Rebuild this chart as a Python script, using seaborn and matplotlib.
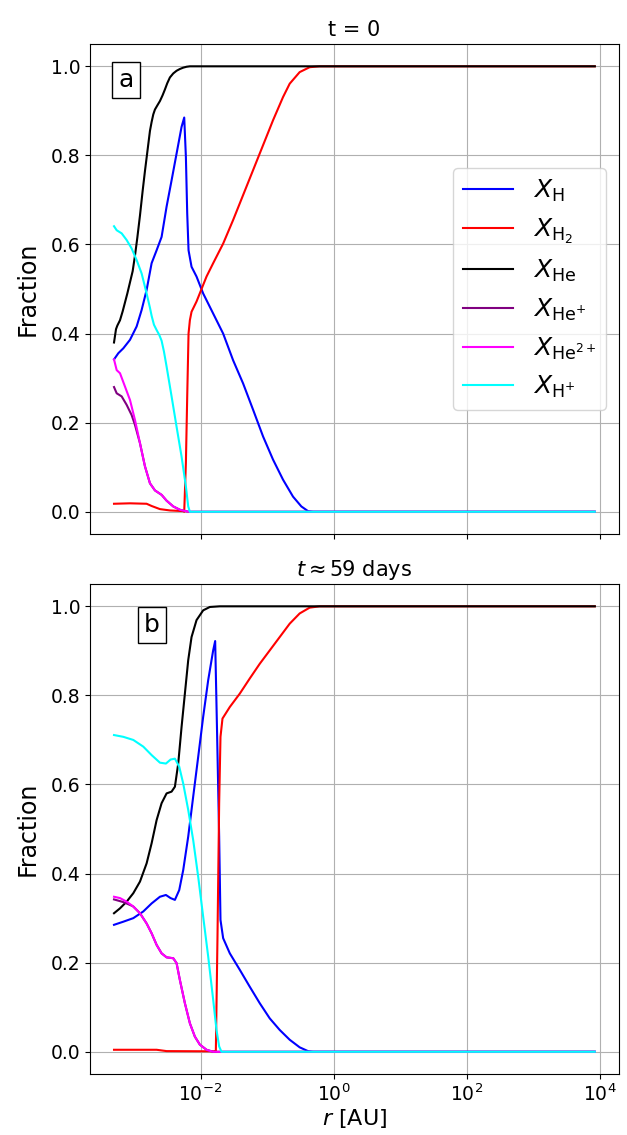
import numpy as np
import pandas as pd
import matplotlib
matplotlib.use("Agg")
import matplotlib.pyplot as plt
import matplotlib.ticker as mticker
import seaborn as sns

R_END = 3.925  # log10 of outermost radius

# ---------------- panel a (t = 0) : log10(r) and fractions ----------------
a_H_logr = [-3.30, -3.235, -3.16, -3.06, -2.96, -2.885, -2.81, -2.735, -2.66, -2.585, -2.51,
            -2.435, -2.36, -2.285, -2.245, -2.22, -2.20, -2.18, -2.135, -2.06, -1.96, -1.81,
            -1.66, -1.51, -1.36, -1.21, -1.06, -0.91, -0.76, -0.61, -0.485, -0.385, -0.31, R_END]
a_H = [0.342, 0.356, 0.367, 0.386, 0.416, 0.453, 0.498, 0.558, 0.587, 0.617, 0.685,
       0.744, 0.804, 0.864, 0.885, 0.797, 0.67, 0.587, 0.55, 0.528, 0.49, 0.445,
       0.40, 0.34, 0.288, 0.229, 0.169, 0.117, 0.072, 0.034, 0.012, 0.0015, 0.0, 0.0]

a_H2_logr = [-3.30, -3.06, -2.81, -2.735, -2.61, -2.46, -2.26, -2.245, -2.22, -2.20, -2.18, -2.16,
             -2.135, -2.06, -1.985, -1.91, -1.81, -1.66, -1.51, -1.36, -1.21, -1.06, -0.91,
             -0.76, -0.66, -0.51, -0.36, -0.21, R_END]
a_H2 = [0.018, 0.019, 0.018, 0.013, 0.006, 0.003, 0.0015, 0.0, 0.109, 0.259, 0.40, 0.43,
        0.449, 0.472, 0.50, 0.528, 0.558, 0.602, 0.655, 0.711, 0.767, 0.823, 0.879,
        0.931, 0.961, 0.987, 0.998, 1.0, 1.0]

a_He_logr = [-3.30, -3.27, -3.25, -3.21, -3.17, -3.135, -3.10, -3.06, -3.02, -2.985, -2.95,
             -2.91, -2.87, -2.835, -2.81, -2.785, -2.76, -2.735, -2.71, -2.685, -2.65, -2.61,
             -2.57, -2.535, -2.50, -2.46, -2.41, -2.36, -2.31, -2.26, -2.21, -2.16, R_END]
a_He = [0.38, 0.41, 0.418, 0.43, 0.45, 0.47, 0.49, 0.515, 0.54, 0.575, 0.615,
        0.665, 0.72, 0.765, 0.795, 0.825, 0.855, 0.875, 0.892, 0.903, 0.912, 0.922,
        0.935, 0.948, 0.962, 0.975, 0.984, 0.99, 0.994, 0.997, 0.999, 1.0, 1.0]

a_He2p_logr = [-3.30, -3.26, -3.21, -3.135, -3.06, -2.985, -2.91, -2.835, -2.76, -2.685, -2.585,
               -2.51, -2.41, -2.31, -2.21, -2.16, R_END]
a_He2p = [0.342, 0.318, 0.311, 0.281, 0.251, 0.206, 0.154, 0.102, 0.064, 0.048, 0.038,
          0.025, 0.012, 0.0045, 0.001, 0.0, 0.0]

a_Hep_logr = [-3.30, -3.26, -3.185, -3.11, -3.035, -2.985, -2.91, -2.835, -2.76, -2.685, -2.585,
              -2.51, -2.41, -2.31, -2.21, -2.16, R_END]
a_Hep = [0.28, 0.266, 0.259, 0.24, 0.217, 0.195, 0.154, 0.102, 0.064, 0.048, 0.038,
         0.025, 0.012, 0.0045, 0.001, 0.0, 0.0]

a_Hp_logr = [-3.30, -3.26, -3.185, -3.11, -3.035, -2.96, -2.885, -2.81, -2.76, -2.735, -2.70,
             -2.66, -2.62, -2.585, -2.55, -2.51, -2.435, -2.36, -2.285, -2.22, -2.185, -2.16, R_END]
a_Hp = [0.641, 0.632, 0.625, 0.61, 0.591, 0.565, 0.535, 0.49, 0.458, 0.44, 0.42,
        0.408, 0.397, 0.384, 0.36, 0.326, 0.259, 0.191, 0.124, 0.057, 0.012, 0.0, 0.0]

# ---------------- panel b (t ~ 59 days) ----------------
b_H_logr = [-3.30, -3.16, -3.01, -2.86, -2.735, -2.61, -2.52, -2.45, -2.385, -2.32, -2.26,
            -2.185, -2.11, -2.035, -1.96, -1.885, -1.81, -1.78, -1.75, -1.72, -1.70, -1.66,
            -1.56, -1.41, -1.26, -1.11, -0.96, -0.81, -0.66, -0.51, -0.385, -0.31, R_END]
b_H = [0.285, 0.292, 0.30, 0.315, 0.333, 0.348, 0.352, 0.345, 0.341, 0.363, 0.408,
       0.483, 0.573, 0.662, 0.752, 0.834, 0.901, 0.922, 0.707, 0.483, 0.296, 0.255,
       0.221, 0.184, 0.146, 0.109, 0.075, 0.049, 0.027, 0.010, 0.0015, 0.0, 0.0]

b_H2_logr = [-3.30, -2.66, -2.51, -1.785, -1.77, -1.745, -1.72, -1.70, -1.67, -1.56, -1.41,
             -1.26, -1.11, -0.96, -0.81, -0.66, -0.51, -0.36, -0.21, R_END]
b_H2 = [0.0045, 0.0045, 0.0015, 0.001, 0.0, 0.259, 0.558, 0.707, 0.748, 0.774, 0.804,
        0.838, 0.871, 0.901, 0.931, 0.961, 0.984, 0.997, 1.0, 1.0]

b_He_logr = [-3.30, -3.21, -3.11, -3.01, -2.91, -2.81, -2.735, -2.66, -2.585, -2.51, -2.435,
             -2.385, -2.335, -2.285, -2.235, -2.185, -2.135, -2.06, -1.96, -1.86, -1.71, R_END]
b_He = [0.311, 0.322, 0.337, 0.356, 0.382, 0.423, 0.468, 0.52, 0.558, 0.58, 0.584,
        0.595, 0.647, 0.729, 0.804, 0.879, 0.931, 0.969, 0.991, 0.9985, 1.0, 1.0]

b_He2p_logr = [-3.30, -3.21, -3.11, -3.01, -2.91, -2.81, -2.735, -2.66, -2.585, -2.51, -2.41,
               -2.36, -2.31, -2.235, -2.16, -2.085, -2.01, -1.91, -1.81, R_END]
b_He2p = [0.348, 0.345, 0.337, 0.326, 0.311, 0.288, 0.266, 0.24, 0.221, 0.212, 0.21,
          0.199, 0.161, 0.109, 0.064, 0.034, 0.016, 0.0045, 0.0, 0.0]

b_Hep_logr = [-3.30, -3.16, -3.035, -3.01, -2.91, -2.81, -2.735, -2.66, -2.585, -2.51, -2.41,
              -2.36, -2.31, -2.235, -2.16, -2.085, -2.01, -1.91, -1.81, R_END]
b_Hep = [0.342, 0.336, 0.328, 0.326, 0.311, 0.288, 0.266, 0.24, 0.221, 0.212, 0.21,
         0.199, 0.161, 0.109, 0.064, 0.034, 0.016, 0.0045, 0.0, 0.0]

b_Hp_logr = [-3.30, -3.16, -3.01, -2.86, -2.735, -2.61, -2.52, -2.45, -2.385, -2.32, -2.26,
             -2.185, -2.11, -2.035, -1.96, -1.885, -1.81, -1.76, -1.72, -1.685, R_END]
b_Hp = [0.711, 0.707, 0.70, 0.685, 0.666, 0.649, 0.647, 0.656, 0.658, 0.64, 0.602,
        0.543, 0.475, 0.393, 0.303, 0.214, 0.117, 0.049, 0.012, 0.0, 0.0]

species = ["H", "H2", "He", "He+", "He2+", "H+"]
labels = [r"$X_{\rm H}$", r"$X_{\rm H_2}$", r"$X_{\rm He}$", r"$X_{\rm He^{+}}$",
          r"$X_{\rm He^{2+}}$", r"$X_{\rm H^{+}}$"]
colors = ["blue", "red", "black", "purple", "magenta", "cyan"]
titles = ["t = 0", r"$t \approx 59$ days"]
panel_tags = ["a", "b"]

panel_a = [(a_H_logr, a_H), (a_H2_logr, a_H2), (a_He_logr, a_He),
           (a_Hep_logr, a_Hep), (a_He2p_logr, a_He2p), (a_Hp_logr, a_Hp)]
panel_b = [(b_H_logr, b_H), (b_H2_logr, b_H2), (b_He_logr, b_He),
           (b_Hep_logr, b_Hep), (b_He2p_logr, b_He2p), (b_Hp_logr, b_Hp)]

fig, axes = plt.subplots(2, 1, figsize=(6.27, 11.35), dpi=100, sharex=True)
fig.subplots_adjust(left=0.1435, right=0.987, top=0.9612, bottom=0.0537, hspace=0.102)

tag_pos = [(0.068, 0.927), (0.117, 0.916)]

for k, (ax, panel) in enumerate(zip(axes, [panel_a, panel_b])):
    for (lr, y), lab, col in zip(panel, labels, colors):
        df = pd.DataFrame({"r": 10.0 ** np.asarray(lr), "X": y})
        sns.lineplot(data=df, x="r", y="X", ax=ax, color=col, label=lab,
                     estimator=None, sort=False, linewidth=1.5)
    ax.set_xscale("log")
    ax.set_xticks([1e-2, 1e0, 1e2, 1e4])
    ax.xaxis.set_minor_locator(mticker.NullLocator())
    ax.grid(True, color="#b0b0b0", linewidth=0.8)
    ax.set_ylabel("Fraction", fontsize=17, labelpad=8)
    ax.set_xlabel("")
    ax.set_title(titles[k], fontsize=15)
    ax.tick_params(labelsize=13.5)
    ax.text(tag_pos[k][0], tag_pos[k][1], panel_tags[k], transform=ax.transAxes,
            fontsize=18, ha="center", va="center",
            bbox=dict(boxstyle="square,pad=0.25", facecolor="white", edgecolor="black"))
    if k == 0:
        ax.legend(loc="center right", fontsize=18)
    else:
        ax.get_legend().remove()

axes[1].set_xlabel(r"$r$ [AU]", fontsize=16, labelpad=1)
fig.savefig("out.png", dpi=100)
